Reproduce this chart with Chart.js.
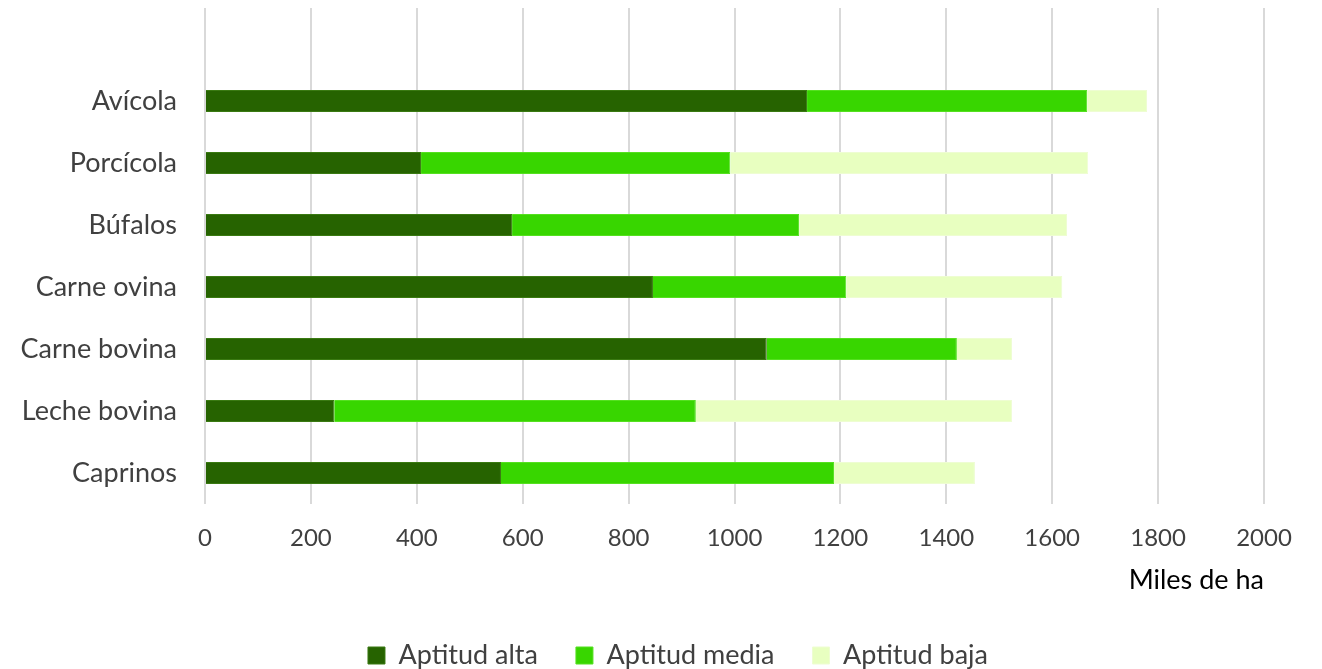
<!DOCTYPE html>
<html>
<head>
<meta charset="utf-8">
<script src="https://cdn.jsdelivr.net/npm/chart.js@4"></script>
<style>
  html, body { margin: 0; padding: 0; background: #fff; }
  #wrap { width: 1322px; height: 669px; }
</style>
</head>
<body>
<div id="wrap"><canvas id="myChart" width="1322" height="669"></canvas></div>
<script>
// categorias (la primera vacia deja el hueco de arriba)
var categorias = ['', 'Avícola', 'Porcícola', 'Búfalos', 'Carne ovina', 'Carne bovina', 'Leche bovina', 'Caprinos'];
var aptitudAlta  = [null, 1137, 408, 580, 846, 1061, 244, 559];
var aptitudMedia = [null, 529, 584, 542, 365, 359, 683, 629];
var aptitudBaja  = [null, 113, 676, 506, 408, 104, 597, 266];
var ticksX = [0, 200, 400, 600, 800, 1000, 1200, 1400, 1600, 1800, 2000];

var fuente = 'Lato, "Open Sans", sans-serif';

// mueve la leyenda a la derecha para centrarla como en el original
var moverLeyenda = {
    id: 'moverLeyenda',
    afterLayout: function (chart) {
        chart.legend.left += 17;
        chart.legend.right += 17;
    }
};

var ctx = document.getElementById('myChart').getContext('2d');
var myChart = new Chart(ctx, {
    type: 'bar',
    data: {
        labels: categorias,
        datasets: [{
            label: 'Aptitud alta',
            data: aptitudAlta,
            backgroundColor: '#266300',
            borderColor: '#3a7a12',
            borderWidth: 1
        }, {
            label: 'Aptitud media',
            data: aptitudMedia,
            backgroundColor: '#38d600',
            borderColor: '#55e020',
            borderWidth: 1
        }, {
            label: 'Aptitud baja',
            data: aptitudBaja,
            backgroundColor: '#e8ffc0',
            borderColor: '#eefdd2',
            borderWidth: 1
        }]
    },
    plugins: [moverLeyenda],
    options: {
        indexAxis: 'y',
        responsive: false,
        maintainAspectRatio: false,
        animation: false,
        barPercentage: 0.6,
        categoryPercentage: 0.59,
        layout: { padding: { top: 8, right: 0, left: 0, bottom: -10 } },
        plugins: {
            tooltip: { enabled: false },
            legend: {
                position: 'bottom',
                labels: {
                    boxWidth: 17,
                    boxHeight: 17,
                    padding: 38,
                    color: '#404040',
                    font: { family: fuente, size: 27 }
                }
            }
        },
        scales: {
            x: {
                stacked: true,
                min: 0,
                max: 2000,
                afterBuildTicks: function (axis) {
                    axis.ticks = ticksX.map(function (v) { return { value: v }; });
                },
                afterFit: function (scale) {
                    scale.height = 100;
                    scale.paddingRight = 58;
                },
                grid: { color: '#d9d9d9', lineWidth: 2, drawTicks: false },
                border: { display: false },
                ticks: {
                    padding: 20,
                    color: '#404040',
                    font: { family: fuente, size: 24 },
                    callback: function (v) { return String(v); }
                },
                title: {
                    display: true,
                    text: 'Miles de ha',
                    align: 'end',
                    color: '#000',
                    font: { family: fuente, size: 27 },
                    padding: { top: 11, bottom: 8 }
                }
            },
            y: {
                stacked: true,
                grid: { display: false, drawTicks: false },
                border: { display: false },
                afterFit: function (scale) {
                    scale.width = 205;
                    scale.paddingTop = 0;
                    scale.paddingBottom = 0;
                },
                ticks: {
                    padding: 28,
                    color: '#404040',
                    font: { family: fuente, size: 27 }
                }
            }
        }
    }
});
</script>
</body>
</html>
